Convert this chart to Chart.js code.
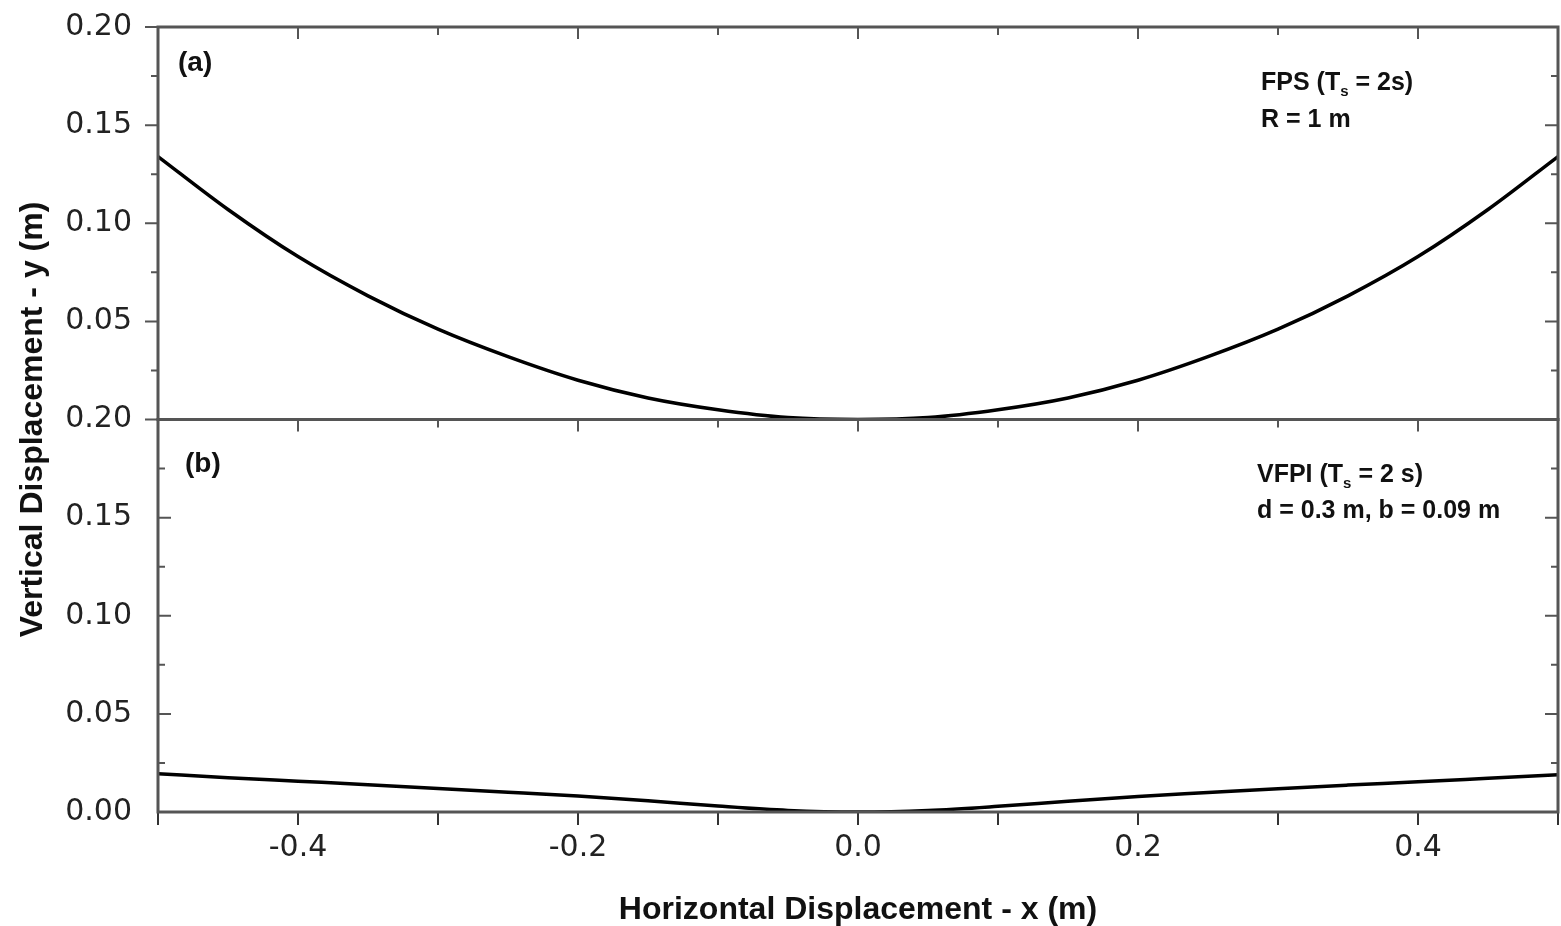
<!DOCTYPE html>
<html>
<head>
<meta charset="utf-8">
<script src="https://cdn.jsdelivr.net/npm/chart.js@4.4.1/dist/chart.umd.min.js"></script>
<style>
    html, body { margin: 0; padding: 0; background: #fff; }
    #wrap { position: relative; width: 1561px; height: 926px; }
</style>
</head>
<body>
<div id="wrap"><canvas id="chart"></canvas></div>
<script>
// horizontal displacement samples (m)
const xValues = [-0.50, -0.45, -0.40, -0.35, -0.30, -0.25, -0.20, -0.15, -0.10, -0.05, 0.00,
                 0.05, 0.10, 0.15, 0.20, 0.25, 0.30, 0.35, 0.40, 0.45, 0.50];
// (a) FPS, Ts = 2 s, R = 1 m
const fpsY = [0.134, 0.107, 0.083, 0.063, 0.046, 0.032, 0.020, 0.011, 0.005, 0.001, 0.000,
              0.001, 0.005, 0.011, 0.020, 0.032, 0.046, 0.063, 0.083, 0.107, 0.134];
// (b) VFPI, Ts = 2 s, d = 0.3 m, b = 0.09 m
const vfpiY = [0.0195, 0.0175, 0.0157, 0.0139, 0.0120, 0.0101, 0.0081, 0.0057, 0.0030, 0.0008, 0.0000,
               0.0008, 0.0029, 0.0055, 0.0079, 0.0099, 0.0119, 0.0137, 0.0154, 0.0172, 0.0190];

const xTitle = 'Horizontal Displacement - x (m)';
const yTitle = 'Vertical Displacement - y (m)';
const panelLabels = ['(a)', '(b)'];
const noteA = [[['FPS (T'], ['s', 'sub'], [' = 2s)']], [['R = 1 m']]];
const noteB = [[['VFPI (T'], ['s', 'sub'], [' = 2 s)']], [['d = 0.3 m, b = 0.09 m']]];

const tickFont = { family: 'DejaVu Sans', size: 30, lineHeight: 1.0 };
const frameColor = '#555';

function toPoints(ys) {
    return xValues.map((x, i) => ({ x: x, y: ys[i] }));
}

function drawRich(ctx, parts, x, y, size) {
    let cx = x;
    parts.forEach(p => {
        const sub = p[1] === 'sub';
        ctx.font = `bold ${sub ? Math.round(size * 0.6) : size}px "Liberation Sans", Arial, sans-serif`;
        ctx.fillText(p[0], cx, sub ? y + size * 0.25 : y);
        cx += ctx.measureText(p[0]).width;
    });
}

// keep the plot box fixed: no extra room for half tick labels
function fitY(s) {
    s.width = 158;
    s.paddingTop = 0;
    s.paddingBottom = 0;
}

const panelPlugin = {
    id: 'panelPlugin',
    afterDraw(chart) {
        const ctx = chart.ctx;
        const area = chart.chartArea;
        const xs = chart.scales.x;
        const yA = chart.scales.yA;
        const yB = chart.scales.yB;
        ctx.save();

        // frames
        ctx.strokeStyle = frameColor;
        ctx.lineWidth = 3;
        [yA, yB].forEach(s => {
            ctx.strokeRect(area.left, s.top, area.right - area.left, s.bottom - s.top);
        });

        // x ticks on the top border and the middle line
        ctx.lineWidth = 2;
        xs.ticks.forEach(t => {
            const px = xs.getPixelForValue(t.value);
            const len = t.label ? 12 : 8;
            [yA.top, yB.top].forEach(py => {
                ctx.beginPath();
                ctx.moveTo(px, py);
                ctx.lineTo(px, py + len);
                ctx.stroke();
            });
        });

        // y ticks, major and minor
        function yTicks(scale, leftDir) {
            const vals = scale.ticks.map(t => t.value);
            const marks = [];
            vals.forEach((v, i) => {
                marks.push([v, 13]);
                if (i < vals.length - 1) marks.push([(v + vals[i + 1]) / 2, 7]);
            });
            marks.forEach(([v, len]) => {
                const py = scale.getPixelForValue(v);
                ctx.beginPath();
                ctx.moveTo(area.left, py);
                ctx.lineTo(area.left + leftDir * len, py);
                ctx.moveTo(area.right, py);
                ctx.lineTo(area.right - len, py);
                ctx.stroke();
            });
        }
        yTicks(yA, -1);
        yTicks(yB, 1);

        // panel labels and notes
        ctx.fillStyle = '#111';
        ctx.textBaseline = 'alphabetic';
        ctx.textAlign = 'left';
        ctx.font = 'bold 28px "Liberation Sans", Arial, sans-serif';
        ctx.fillText(panelLabels[0], area.left + 20, yA.top + 44);
        ctx.fillText(panelLabels[1], area.left + 27, yB.top + 52);
        noteA.forEach((line, i) => drawRich(ctx, line, area.left + 1103, yA.top + 63 + i * 37, 25));
        noteB.forEach((line, i) => drawRich(ctx, line, area.left + 1099, yB.top + 62 + i * 36, 25));

        // shared y title
        ctx.translate(33, (area.top + area.bottom) / 2);
        ctx.rotate(-Math.PI / 2);
        ctx.textAlign = 'center';
        ctx.textBaseline = 'middle';
        ctx.font = 'bold 32px "Liberation Sans", Arial, sans-serif';
        ctx.fillText(yTitle, 0, 0);
        ctx.restore();
    }
};

const lineStyle = {
    borderColor: '#000',
    borderWidth: 3.5,
    pointRadius: 0,
    showLine: true,
    fill: false,
    cubicInterpolationMode: 'monotone'
};

const ctx = document.getElementById('chart').getContext('2d');
const chart = new Chart(ctx, {
    type: 'scatter',
    data: {
        datasets: [
            Object.assign({ label: 'FPS', data: toPoints(fpsY), yAxisID: 'yA' }, lineStyle),
            Object.assign({ label: 'VFPI', data: toPoints(vfpiY), yAxisID: 'yB' }, lineStyle)
        ]
    },
    options: {
        responsive: true,
        maintainAspectRatio: false,
        animation: false,
        layout: { padding: { left: 0, right: 3, top: 27, bottom: 0 } },
        plugins: {
            legend: { display: false },
            tooltip: { enabled: false }
        },
        scales: {
            x: {
                type: 'linear',
                min: -0.5,
                max: 0.5,
                ticks: {
                    stepSize: 0.1,
                    autoSkip: false,
                    maxRotation: 0,
                    padding: 8,
                    color: '#222',
                    font: tickFont,
                    callback: v => {
                        const k = Math.round(v * 10);
                        return k % 2 === 0 ? (k / 10).toFixed(1) : '';
                    }
                },
                grid: { drawOnChartArea: false, drawTicks: true, tickLength: 13, color: '#333', lineWidth: 2 },
                border: { display: false },
                title: {
                    display: true,
                    text: xTitle,
                    color: '#111',
                    font: { family: 'Liberation Sans', size: 32, weight: 'bold' },
                    padding: { top: 0, bottom: -3 }
                },
                afterFit: s => {
                    s.height = 114;
                    s.paddingLeft = 0;
                    s.paddingRight = 0;
                }
            },
            yB: {
                type: 'linear',
                position: 'left',
                stack: 'panels',
                stackWeight: 1,
                min: 0,
                max: 0.2,
                ticks: { stepSize: 0.05, padding: 18, color: '#222', font: tickFont, callback: v => v.toFixed(2) },
                grid: { display: false },
                border: { display: false },
                afterFit: fitY
            },
            yA: {
                type: 'linear',
                position: 'left',
                stack: 'panels',
                stackWeight: 1,
                min: 0,
                max: 0.2,
                ticks: { stepSize: 0.05, padding: 18, color: '#222', font: tickFont, callback: v => v < 0.001 ? '' : v.toFixed(2) },
                grid: { display: false },
                border: { display: false },
                afterFit: fitY
            }
        }
    },
    plugins: [panelPlugin]
});
</script>
</body>
</html>
